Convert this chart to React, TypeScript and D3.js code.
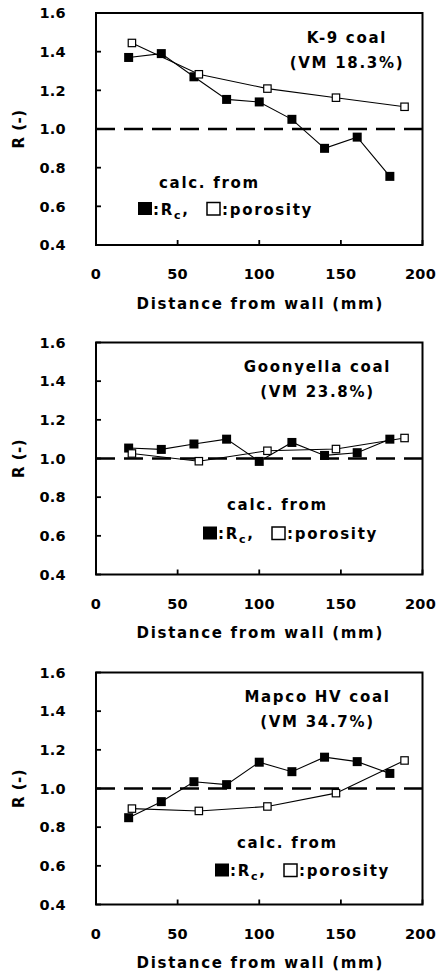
import React from "react";
import * as d3 from "d3";

// ---- data ----
const rcX = [20, 40, 60, 80, 100, 120, 140, 160, 180];
const porX = [22, 63, 105, 147, 189];

const k9Rc = [1.37, 1.39, 1.27, 1.153, 1.14, 1.05, 0.9, 0.958, 0.755];
const k9Por = [1.445, 1.283, 1.209, 1.162, 1.115];

const goonRc = [1.054, 1.047, 1.075, 1.1, 0.985, 1.083, 1.016, 1.03, 1.1];
const goonPor = [1.026, 0.986, 1.04, 1.049, 1.106];

const mapcoRc = [0.849, 0.932, 1.035, 1.02, 1.136, 1.087, 1.162, 1.139, 1.078];
const mapcoPor = [0.896, 0.884, 0.907, 0.976, 1.145];

const coalNames = ["K-9 coal", "Goonyella coal", "Mapco HV coal"];
const vmLabels = ["(VM 18.3%)", "(VM 23.8%)", "(VM 34.7%)"];

const xTicks = [0, 50, 100, 150, 200];
const yTicks = [0.4, 0.6, 0.8, 1.0, 1.2, 1.4, 1.6];
const xTitle = "Distance from wall (mm)";
const yTitle = "R (-)";

const rcSeries = [k9Rc, goonRc, mapcoRc];
const porSeries = [k9Por, goonPor, mapcoPor];

// ---- layout ----
const W = 440;
const H = 974;
const left = 96;
const right = 422.5;
const panelTops = [13, 342.5, 672.5];
const panelH = 232;
const titleCx = [347, 317.5, 317.5];
const legendX = [138, 203, 215];
const calcX = [159, 227, 237];
const calcDy = [169, 162, 169.5];
const legendDy = [196, 191, 198];

const FONT = "'DejaVu Sans', sans-serif";
const LS = 1.7;
const NUM_FS = 14.5;
const NUM_LS = 0.3;

function Panel({ idx }: { idx: number }) {
  const top = panelTops[idx];
  const bottom = top + panelH;
  const x = d3.scaleLinear().domain([0, 200]).range([left, right]);
  const y = d3.scaleLinear().domain([0.4, 1.6]).range([bottom, top]);
  const line = d3
    .line<[number, number]>()
    .x((d) => x(d[0]))
    .y((d) => y(d[1]));
  const rc: [number, number][] = rcX.map((v, i) => [v, rcSeries[idx][i]]);
  const por: [number, number][] = porX.map((v, i) => [v, porSeries[idx][i]]);
  const fs = 15;
  const lx = legendX[idx];
  const ly = top + legendDy[idx];
  return (
    <g>
      {/* dashed reference line */}
      <line
        x1={x(0)}
        x2={x(200) + 2}
        y1={y(1.0)}
        y2={y(1.0)}
        stroke="#000"
        strokeWidth={2.6}
        strokeDasharray="19 9"
      />
      {/* Rc series */}
      <path d={line(rc) || ""} fill="none" stroke="#000" strokeWidth={1.1} />
      {rc.map((d, i) => (
        <rect key={"r" + i} x={x(d[0]) - 4.5} y={y(d[1]) - 4.5} width={9} height={9} fill="#000" />
      ))}
      {/* porosity series */}
      <path d={line(por) || ""} fill="none" stroke="#000" strokeWidth={1.1} />
      {por.map((d, i) => (
        <rect
          key={"p" + i}
          x={x(d[0]) - 3.7}
          y={y(d[1]) - 3.7}
          width={7.4}
          height={7.4}
          fill="#fff"
          stroke="#000"
          strokeWidth={1.2}
        />
      ))}
      {/* frame */}
      <rect x={left} y={top} width={right - left} height={panelH} fill="none" stroke="#000" strokeWidth={2} />
      {/* ticks */}
      {yTicks.map((t) => (
        <g key={"yt" + t}>
          <line x1={left} x2={left + 5} y1={y(t)} y2={y(t)} stroke="#000" strokeWidth={1.8} />
          <text
            x={66}
            y={y(t) + 5.3}
            textAnchor="end"
            fontFamily={FONT}
            fontWeight="bold"
            fontSize={NUM_FS}
            letterSpacing={NUM_LS}
          >
            {t.toFixed(1)}
          </text>
        </g>
      ))}
      {xTicks.map((t) => (
        <g key={"xt" + t}>
          <line x1={x(t)} x2={x(t)} y1={bottom} y2={bottom - 5} stroke="#000" strokeWidth={1.8} />
          <text
            x={t === 200 ? x(t) - 2 : x(t)}
            y={bottom + 29 + 5.3}
            textAnchor="middle"
            fontFamily={FONT}
            fontWeight="bold"
            fontSize={NUM_FS}
            letterSpacing={NUM_LS}
          >
            {t}
          </text>
        </g>
      ))}
      <text
        x={(left + right) / 2 + 1}
        y={bottom + 58 + 5.5}
        textAnchor="middle"
        fontFamily={FONT}
        fontWeight="bold"
        fontSize={fs}
        letterSpacing={LS}
      >
        {xTitle}
      </text>
      <text
        transform={`translate(${24},${top + 116}) rotate(-90)`}
        textAnchor="middle"
        fontFamily={FONT}
        fontWeight="bold"
        fontSize={fs}
        letterSpacing={0.5}
      >
        {yTitle}
      </text>
      {/* annotations */}
      <text
        x={titleCx[idx]}
        y={top + 24 + 5.5}
        textAnchor="middle"
        fontFamily={FONT}
        fontWeight="bold"
        fontSize={fs}
        letterSpacing={LS}
      >
        {coalNames[idx]}
      </text>
      <text
        x={titleCx[idx]}
        y={top + 49 + 5.5}
        textAnchor="middle"
        fontFamily={FONT}
        fontWeight="bold"
        fontSize={fs}
        letterSpacing={LS}
      >
        {vmLabels[idx]}
      </text>
      <text
        x={calcX[idx]}
        y={top + calcDy[idx] + 5.5}
        fontFamily={FONT}
        fontWeight="bold"
        fontSize={fs}
        letterSpacing={LS}
      >
        calc. from
      </text>
      {/* legend row */}
      <rect x={lx} y={ly - 7} width={14} height={13} fill="#000" />
      <text x={lx + 15} y={ly + 5.5} fontFamily={FONT} fontWeight="bold" fontSize={fs} letterSpacing={LS}>
        <tspan>:R</tspan>
        <tspan dy={4} fontSize={11}>c</tspan>
        <tspan dy={-4}>,</tspan>
      </text>
      <rect x={lx + 69} y={ly - 6.5} width={13} height={12.5} fill="#fff" stroke="#000" strokeWidth={1.5} />
      <text x={lx + 84} y={ly + 5.5} fontFamily={FONT} fontWeight="bold" fontSize={fs} letterSpacing={LS}>
        :porosity
      </text>
    </g>
  );
}

export default function App() {
  return (
    <svg
      width={W}
      height={H}
      viewBox={`0 0 ${W} ${H}`}
      style={{ position: "absolute", left: 0, top: 0, background: "#fff" }}
    >
      <rect x={0} y={0} width={W} height={H} fill="#fff" />
      {[0, 1, 2].map((i) => (
        <Panel key={i} idx={i} />
      ))}
    </svg>
  );
}
